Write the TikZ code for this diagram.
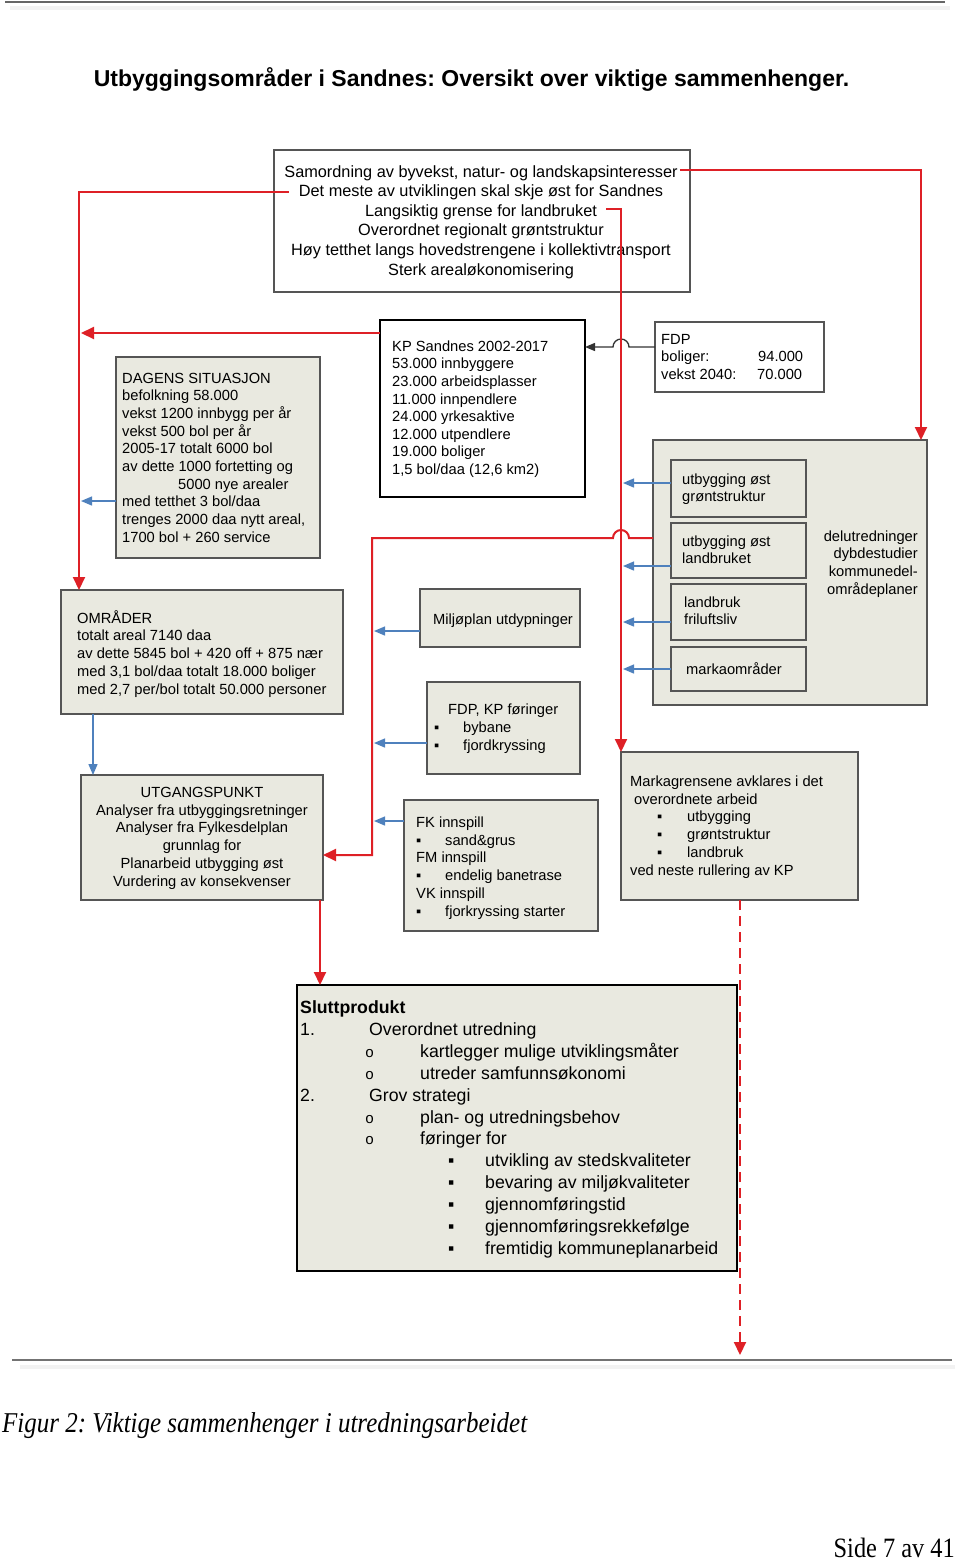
\documentclass[tikz,border=0pt]{standalone}
\usepackage{fontspec}
\setmainfont{Liberation Sans}
\newfontfamily\capfont{Liberation Serif}[FakeStretch=0.87]
\newfontfamily\bulfont{Liberation Mono}
\usetikzlibrary{arrows.meta}
\frenchspacing
\definecolor{rl}{RGB}{222,32,38}
\definecolor{bl}{RGB}{79,129,189}
\definecolor{bf}{RGB}{233,233,224}
\definecolor{bg}{RGB}{85,85,85}
\newcommand\fsz[2]{\fontsize{#1}{#2}\selectfont\lineskiplimit=-30pt\relax}
\newcommand\st{\rule{0pt}{14pt}}
\newcommand\sst{\rule{0pt}{17pt}}
\newcommand\cb{{\bulfont\fontsize{15}{15}\selectfont o}}
\tikzset{
  box/.style={rectangle, anchor=north west, inner sep=0pt, outer sep=0pt, draw=bg, line width=1.2pt},
  gb/.style={box, fill=bf},
  wb/.style={box, fill=white},
  kb/.style={box, draw=black, line width=2pt},
  txt/.style={anchor=north west, inner sep=0pt, align=left, font=\fsz{14.7}{17.6}},
  tl/.style={anchor=base, inner sep=0pt, font=\fsz{16.3}{19.6}},
  rline/.style={draw=rl, line width=2pt},
  rarrow/.style={rline, -{Triangle[length=13pt,width=12pt]}},
  barrow/.style={draw=bl, line width=1.3pt, -{Triangle[length=11pt,width=9pt]}},
  karrow/.style={draw=black!80, line width=1.3pt, -{Triangle[length=10pt,width=8pt]}},
}
\begin{document}
\begin{tikzpicture}[x=1pt,y=-1pt]
\fill[white] (0,0) rectangle (960,1564);
\useasboundingbox (0,0) rectangle (960,1564);
% page rules
\draw[line width=4pt, black!5] (10,8) -- (950,8);
\draw[line width=2pt, black!60] (5,2) -- (945,2);
\draw[line width=4pt, black!5] (20,1367) -- (955,1367);
\draw[line width=2pt, black!55] (12,1360) -- (952,1360);

% helper coordinates for vertical lines
\coordinate (Lx) at (81,0);
\coordinate (Vx) at (621,0);
\coordinate (Vb) at (623,0);
\coordinate (Mx) at (372,0);
\coordinate (Mb) at (374,0);
\coordinate (dend) at (740,1355);

% title
\node[anchor=base, inner sep=0pt, font=\bfseries\fsz{23}{27}] (title) at (471.5,86)
  {Utbyggingsområder i Sandnes: Oversikt over viktige sammenhenger.};

% boxes
\node[wb, minimum width=416pt, minimum height=142pt] (top) at (274,150) {};
\node[kb, fill=white, minimum width=205pt, minimum height=177pt] (kp) at (380,320) {};
\node[wb, minimum width=169pt, minimum height=70pt] (fdp) at (655,322) {};
\node[gb, minimum width=204pt, minimum height=201pt] (dag) at (116,357) {};
\node[gb, minimum width=282pt, minimum height=124pt] (omr) at (61,590) {};
\node[gb, minimum width=242pt, minimum height=125pt] (utg) at (81,775) {};
\node[gb, minimum width=160pt, minimum height=58pt] (milj) at (420,589) {};
\node[gb, minimum width=153pt, minimum height=92pt] (fkp) at (427,682) {};
\node[gb, minimum width=194pt, minimum height=131pt] (fk) at (404,800) {};
\node[gb, minimum width=274pt, minimum height=265pt] (del) at (653,440) {};
\node[gb, minimum width=135pt, minimum height=57pt] (s1) at (671,460) {};
\node[gb, minimum width=135pt, minimum height=55pt] (s2) at (671,523) {};
\node[gb, minimum width=135pt, minimum height=56pt] (s3) at (671,584) {};
\node[gb, minimum width=135pt, minimum height=44pt] (s4) at (671,647) {};
\node[gb, minimum width=237pt, minimum height=148pt] (mark) at (621,752) {};
\node[gb, draw=black, line width=2pt, minimum width=440pt, minimum height=286pt] (slutt) at (297,985) {};

% top box text
\node[tl] (t1) at (481,177) {Samordning av byvekst, natur- og landskapsinteresser};
\node[tl] (t2) at (481,196.6) {Det meste av utviklingen skal skje øst for Sandnes};
\node[tl] (t3) at (481,216.2) {Langsiktig grense for landbruket};
\node[tl] (t4) at (481,235.8) {Overordnet regionalt grøntstruktur};
\node[tl] (t5) at (481,255.4) {Høy tetthet langs hovedstrengene i kollektivtransport};
\node[tl] (t6) at (481,275) {Sterk arealøkonomisering};

% box texts
\node[txt] (kpt) at (392,337) {\st KP Sandnes 2002-2017\\53.000 innbyggere\\23.000 arbeidsplasser\\11.000 innpendlere\\24.000 yrkesaktive\\12.000 utpendlere\\19.000 boliger\\1,5 bol/daa (12,6 km2)};
\node[txt] (fdpt) at (661,330) {\st FDP\\\makebox[97pt][l]{boliger:}94.000\\\makebox[96pt][l]{vekst 2040:}70.000};
\node[txt, font=\fsz{14.7}{17.67}] (dagt) at (122,369) {\st DAGENS SITUASJON\\befolkning 58.000\\vekst 1200 innbygg per år\\vekst 500 bol per år\\2005-17 totalt 6000 bol\\av dette 1000 fortetting og\\\hspace*{56pt}5000 nye arealer\\med tetthet 3 bol/daa\\trenges 2000 daa nytt areal,\\1700 bol + 260 service};
\node[txt, font=\fsz{14.7}{17.75}] (omrt) at (77,609) {\st OMRÅDER\\totalt areal 7140 daa\\av dette 5845 bol + 420 off + 875 nær\\med 3,1 bol/daa totalt 18.000 boliger\\med 2,7 per/bol totalt 50.000 personer};
\node[txt, anchor=north, align=center, font=\fsz{14.7}{17.8}] (utgt) at (202,783) {\st UTGANGSPUNKT\\Analyser fra utbyggingsretninger\\Analyser fra Fylkesdelplan\\grunnlag for\\Planarbeid utbygging øst\\Vurdering av konsekvenser};
\node[txt, anchor=north] (miljt) at (503,610) {\st Miljøplan utdypninger};
\node[txt, font=\fsz{14.7}{18}] (fkpt) at (434,700) {\st\hspace*{14pt}FDP, KP føringer\\\makebox[29pt][l]{▪}bybane\\\makebox[29pt][l]{▪}fjordkryssing};
\node[txt, font=\fsz{14.7}{17.8}] (fkt) at (416,813) {\st FK innspill\\\makebox[29pt][l]{▪}sand\&grus\\FM innspill\\\makebox[29pt][l]{▪}endelig banetrase\\VK innspill\\\makebox[29pt][l]{▪}fjorkryssing starter};
\node[txt, font=\fsz{14.7}{17}] (s1t) at (682,470) {\st utbygging øst\\grøntstruktur};
\node[txt, font=\fsz{14.7}{17}] (s2t) at (682,532) {\st utbygging øst\\landbruket};
\node[txt, font=\fsz{14.7}{17.5}] (s3t) at (684,593) {\st landbruk\\friluftsliv};
\node[txt] (s4t) at (686,660) {\st markaområder};
\node[txt, anchor=north east, align=right, font=\fsz{14.7}{17.7}] (delt) at (918,527) {\st delutredninger\\dybdestudier\\kommunedel-\\områdeplaner};
\node[txt, font=\fsz{14.7}{17.8}] (markt) at (630,772) {\st Markagrensene avklares i det\\\hspace*{4pt}overordnete arbeid\\\hspace*{27pt}\makebox[30pt][l]{▪}utbygging\\\hspace*{27pt}\makebox[30pt][l]{▪}grøntstruktur\\\hspace*{27pt}\makebox[30pt][l]{▪}landbruk\\ved neste rullering av KP};
\node[txt, font=\fsz{17.7}{21.9}] (sluttt) at (300,996.3) {\sst\textbf{Sluttprodukt}\\
\makebox[69pt][l]{1.}Overordnet utredning\\
\hspace*{65pt}\makebox[55pt][l]{\cb}kartlegger mulige utviklingsmåter\\
\hspace*{65pt}\makebox[55pt][l]{\cb}utreder samfunnsøkonomi\\
\makebox[69pt][l]{2.}Grov strategi\\
\hspace*{65pt}\makebox[55pt][l]{\cb}plan- og utredningsbehov\\
\hspace*{65pt}\makebox[55pt][l]{\cb}føringer for\\
\hspace*{148pt}\makebox[37pt][l]{▪}utvikling av stedskvaliteter\\
\hspace*{148pt}\makebox[37pt][l]{▪}bevaring av miljøkvaliteter\\
\hspace*{148pt}\makebox[37pt][l]{▪}gjennomføringstid\\
\hspace*{148pt}\makebox[37pt][l]{▪}gjennomføringsrekkefølge\\
\hspace*{148pt}\makebox[37pt][l]{▪}fremtidig kommuneplanarbeid};

% caption and page number
\node[anchor=base west, inner sep=0pt, font=\capfont\itshape\fsz{28.7}{30}] (cap) at (2,1432) {Figur 2: Viktige sammenhenger i utredningsarbeidet};
\node[anchor=base east, inner sep=0pt, font=\capfont\fsz{28}{30}] (pg) at (955,1557) {Side 7 av 41};

% helper points
\path ([yshift=-98pt]del.north west) coordinate (h1);
\path ([yshift=-25pt]fdp.north west) coordinate (f1);

% blue connectors
\draw[barrow] ([yshift=-144pt]dag.north west) -- ([yshift=-144pt]dag.north west -| Lx);
\draw[barrow] ([xshift=32pt]omr.south west) -- ([xshift=32pt]omr.south west |- utg.north);
\draw[barrow] ([yshift=-42pt]milj.north west) -- ([yshift=-42pt]milj.north west -| Mb);
\draw[barrow] ([yshift=-61pt]fkp.north west) -- ([yshift=-61pt]fkp.north west -| Mb);
\draw[barrow] ([yshift=-21pt]fk.north west) -- ([yshift=-21pt]fk.north west -| Mb);
\draw[barrow] ([yshift=-23pt]s1.north west) -- ([yshift=-23pt]s1.north west -| Vb);
\draw[barrow] ([yshift=-43pt]s2.north west) -- ([yshift=-43pt]s2.north west -| Vb);
\draw[barrow] ([yshift=-38pt]s3.north west) -- ([yshift=-38pt]s3.north west -| Vb);
\draw[barrow] ([yshift=-22pt]s4.north west) -- ([yshift=-22pt]s4.north west -| Vb);

% black connector FDP -> KP with hop
\draw[karrow] (f1) -- ([xshift=8pt]f1 -| Vx) arc[start angle=0, end angle=180, radius=8pt] -- (f1 -| kp.east);

% red connectors
\draw[rarrow] ([xshift=2pt,yshift=2.5pt]t1.east) -| ([xshift=-6pt]del.north east);
\draw[rarrow] ([xshift=-10pt]t2.west) -| ([xshift=18pt]omr.north west);
\draw[rarrow] ([xshift=9pt,yshift=2.5pt]t3.east) -| (mark.north west);
\draw[rarrow] ([yshift=-13pt]kp.north west) -- ([yshift=-13pt]kp.north west -| Lx);
\draw[rarrow] (h1) -- ([xshift=8pt]h1 -| Vx) arc[start angle=0, end angle=180, radius=8pt] -- (h1 -| Mx) -- ([yshift=-80pt]utg.north east -| Mx) -- ([yshift=-80pt]utg.north east);
\draw[rarrow] ([xshift=-3pt]utg.south east) -- ([xshift=-3pt]utg.south east |- slutt.north);
\draw[rline, dash pattern=on 10pt off 6pt, -{Triangle[length=13pt,width=12pt]}] ([xshift=119pt]mark.south west) -- (dend);
\end{tikzpicture}
\end{document}
